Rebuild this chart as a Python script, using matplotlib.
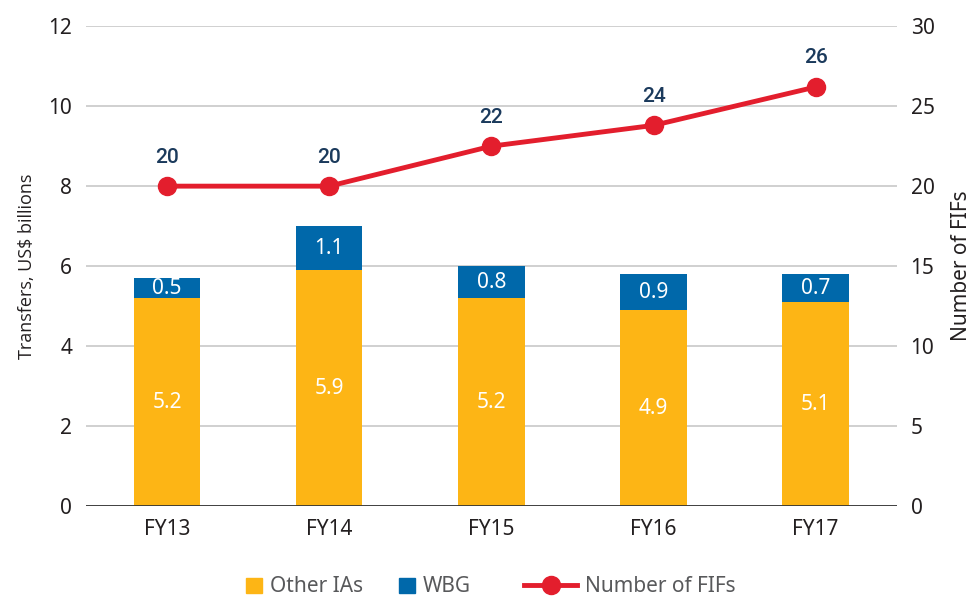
import matplotlib
matplotlib.use("Agg")
import matplotlib.pyplot as plt
from matplotlib.lines import Line2D
from matplotlib.patches import Patch

categories = ["FY13", "FY14", "FY15", "FY16", "FY17"]
other_ias = [5.2, 5.9, 5.2, 4.9, 5.1]
wbg = [0.5, 1.1, 0.8, 0.9, 0.7]
num_fifs = [20, 20, 22.5, 23.8, 26.2]
fif_labels = ["20", "20", "22", "24", "26"]

YELLOW = "#FDB515"
BLUE = "#0068AA"
RED = "#E31E2D"
NAVY = "#1B3A5C"
TXT = "#231F20"
GRAY = "#58595B"

plt.rcParams["font.family"] = ["Noto Sans", "DejaVu Sans"]

fig = plt.figure(figsize=(9.8, 5.96), dpi=100)
ax = fig.add_axes([0.0878, 0.151, 0.8272, 0.805])
ax2 = ax.twinx()

x = list(range(len(categories)))
w = 0.41
ax.bar(x, other_ias, width=w, color=YELLOW, zorder=2)
ax.bar(x, wbg, width=w, bottom=other_ias, color=BLUE, zorder=2)

for i in x:
    ax.text(i, other_ias[i] / 2, f"{other_ias[i]:.1f}", ha="center", va="center",
            color="white", fontsize=15, zorder=3)
    ax.text(i, other_ias[i] + wbg[i] / 2, f"{wbg[i]:.1f}", ha="center", va="center",
            color="white", fontsize=15, zorder=3)

ax2.plot(x, num_fifs, color=RED, lw=3.5, marker="o", markersize=13, zorder=4)
for i in x:
    ax2.annotate(fif_labels[i], (i, num_fifs[i]), xytext=(0, 17), textcoords="offset points",
                 ha="center", va="baseline", color=NAVY, fontsize=15, fontweight="medium",
                 family=["Roboto", "DejaVu Sans"])

ax.set_xlim(-0.5, 4.5)
ax.set_ylim(0, 12)
ax2.set_ylim(0, 30)
ax.set_yticks(range(0, 13, 2))
ax2.set_yticks(range(0, 31, 5))
ax.set_xticks(x)
ax.set_xticklabels(categories)

ax.yaxis.grid(True, color="#C8C8C8", lw=1.2, zorder=0)
ax.set_axisbelow(True)
for a in (ax, ax2):
    for s in a.spines.values():
        s.set_visible(False)
    a.tick_params(length=0, labelsize=15, colors=TXT)
ax.axhline(0, color="#333333", lw=2, zorder=3)
ax.tick_params(axis="x", pad=9)
ax.tick_params(axis="y", pad=10)
ax2.tick_params(axis="y", pad=10)

ax.set_ylabel("Transfers, US$ billions", fontsize=13, color=TXT, labelpad=9,
              family=["Open Sans", "DejaVu Sans"])
ax2.set_ylabel("Number of FIFs", fontsize=15, color=TXT, labelpad=12)

leg1 = fig.legend([Patch(color=YELLOW), Patch(color=BLUE)], ["Other IAs", "WBG"],
                  loc="center left", bbox_to_anchor=(246 / 980, 1 - 587 / 596), ncol=2,
                  frameon=False, fontsize=15, handlelength=0.76, handleheight=0.76,
                  columnspacing=1.75, handletextpad=0.37, borderpad=0, borderaxespad=0)
leg2 = fig.legend([Line2D([0], [0], color=RED, lw=3.5, marker="o", markersize=13)],
                  ["Number of FIFs"], loc="center left",
                  bbox_to_anchor=(524 / 980, 1 - 587 / 596), frameon=False, fontsize=15,
                  handlelength=2.55, handletextpad=0.37, borderpad=0, borderaxespad=0,
                  numpoints=1)
for lg in (leg1, leg2):
    for t in lg.get_texts():
        t.set_color(GRAY)

fig.savefig("out.png", dpi=100)
